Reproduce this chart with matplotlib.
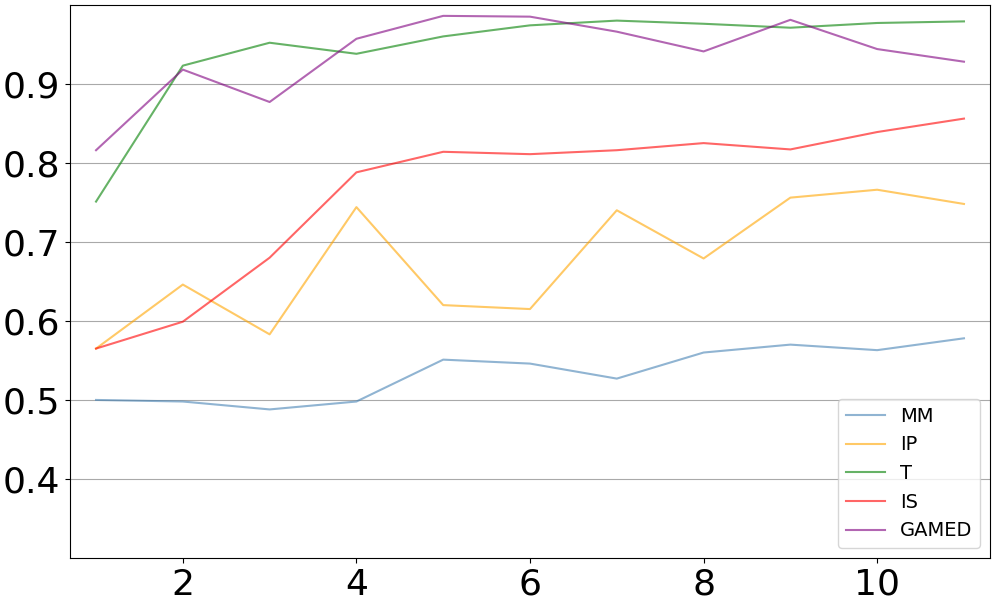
import matplotlib
matplotlib.use("Agg")
import matplotlib.pyplot as plt

x = list(range(1, 12))

mm = [0.500, 0.498, 0.488, 0.498, 0.551, 0.546, 0.527, 0.560, 0.570, 0.563, 0.578]
ip = [0.565, 0.646, 0.583, 0.744, 0.620, 0.615, 0.740, 0.679, 0.756, 0.766, 0.748]
t = [0.751, 0.923, 0.952, 0.938, 0.960, 0.974, 0.980, 0.976, 0.971, 0.977, 0.979]
is_ = [0.565, 0.599, 0.680, 0.788, 0.814, 0.811, 0.816, 0.825, 0.817, 0.839, 0.856]
gamed = [0.816, 0.918, 0.877, 0.957, 0.986, 0.985, 0.966, 0.941, 0.981, 0.944, 0.928]

fig, ax = plt.subplots(figsize=(10, 6), dpi=100)

ax.plot(x, mm, color='steelblue', alpha=0.6, label='MM')
ax.plot(x, ip, color='orange', alpha=0.6, label='IP')
ax.plot(x, t, color='green', alpha=0.6, label='T')
ax.plot(x, is_, color='red', alpha=0.6, label='IS')
ax.plot(x, gamed, color='purple', alpha=0.6, label='GAMED')

ax.set_xlim(0.7, 11.3)
ax.set_ylim(0.3, 1.0)
ax.set_yticks([0.4, 0.5, 0.6, 0.7, 0.8, 0.9])
ax.set_xticks([2, 4, 6, 8, 10])
ax.yaxis.grid(True, color='darkgray')
ax.set_axisbelow(True)
ax.tick_params(labelsize=26)
ax.legend(loc='lower right', fontsize=14)

# axes box placed to match the original layout
plt.subplots_adjust(left=0.07, right=0.99, top=0.992, bottom=0.07)
plt.savefig('out.png')
